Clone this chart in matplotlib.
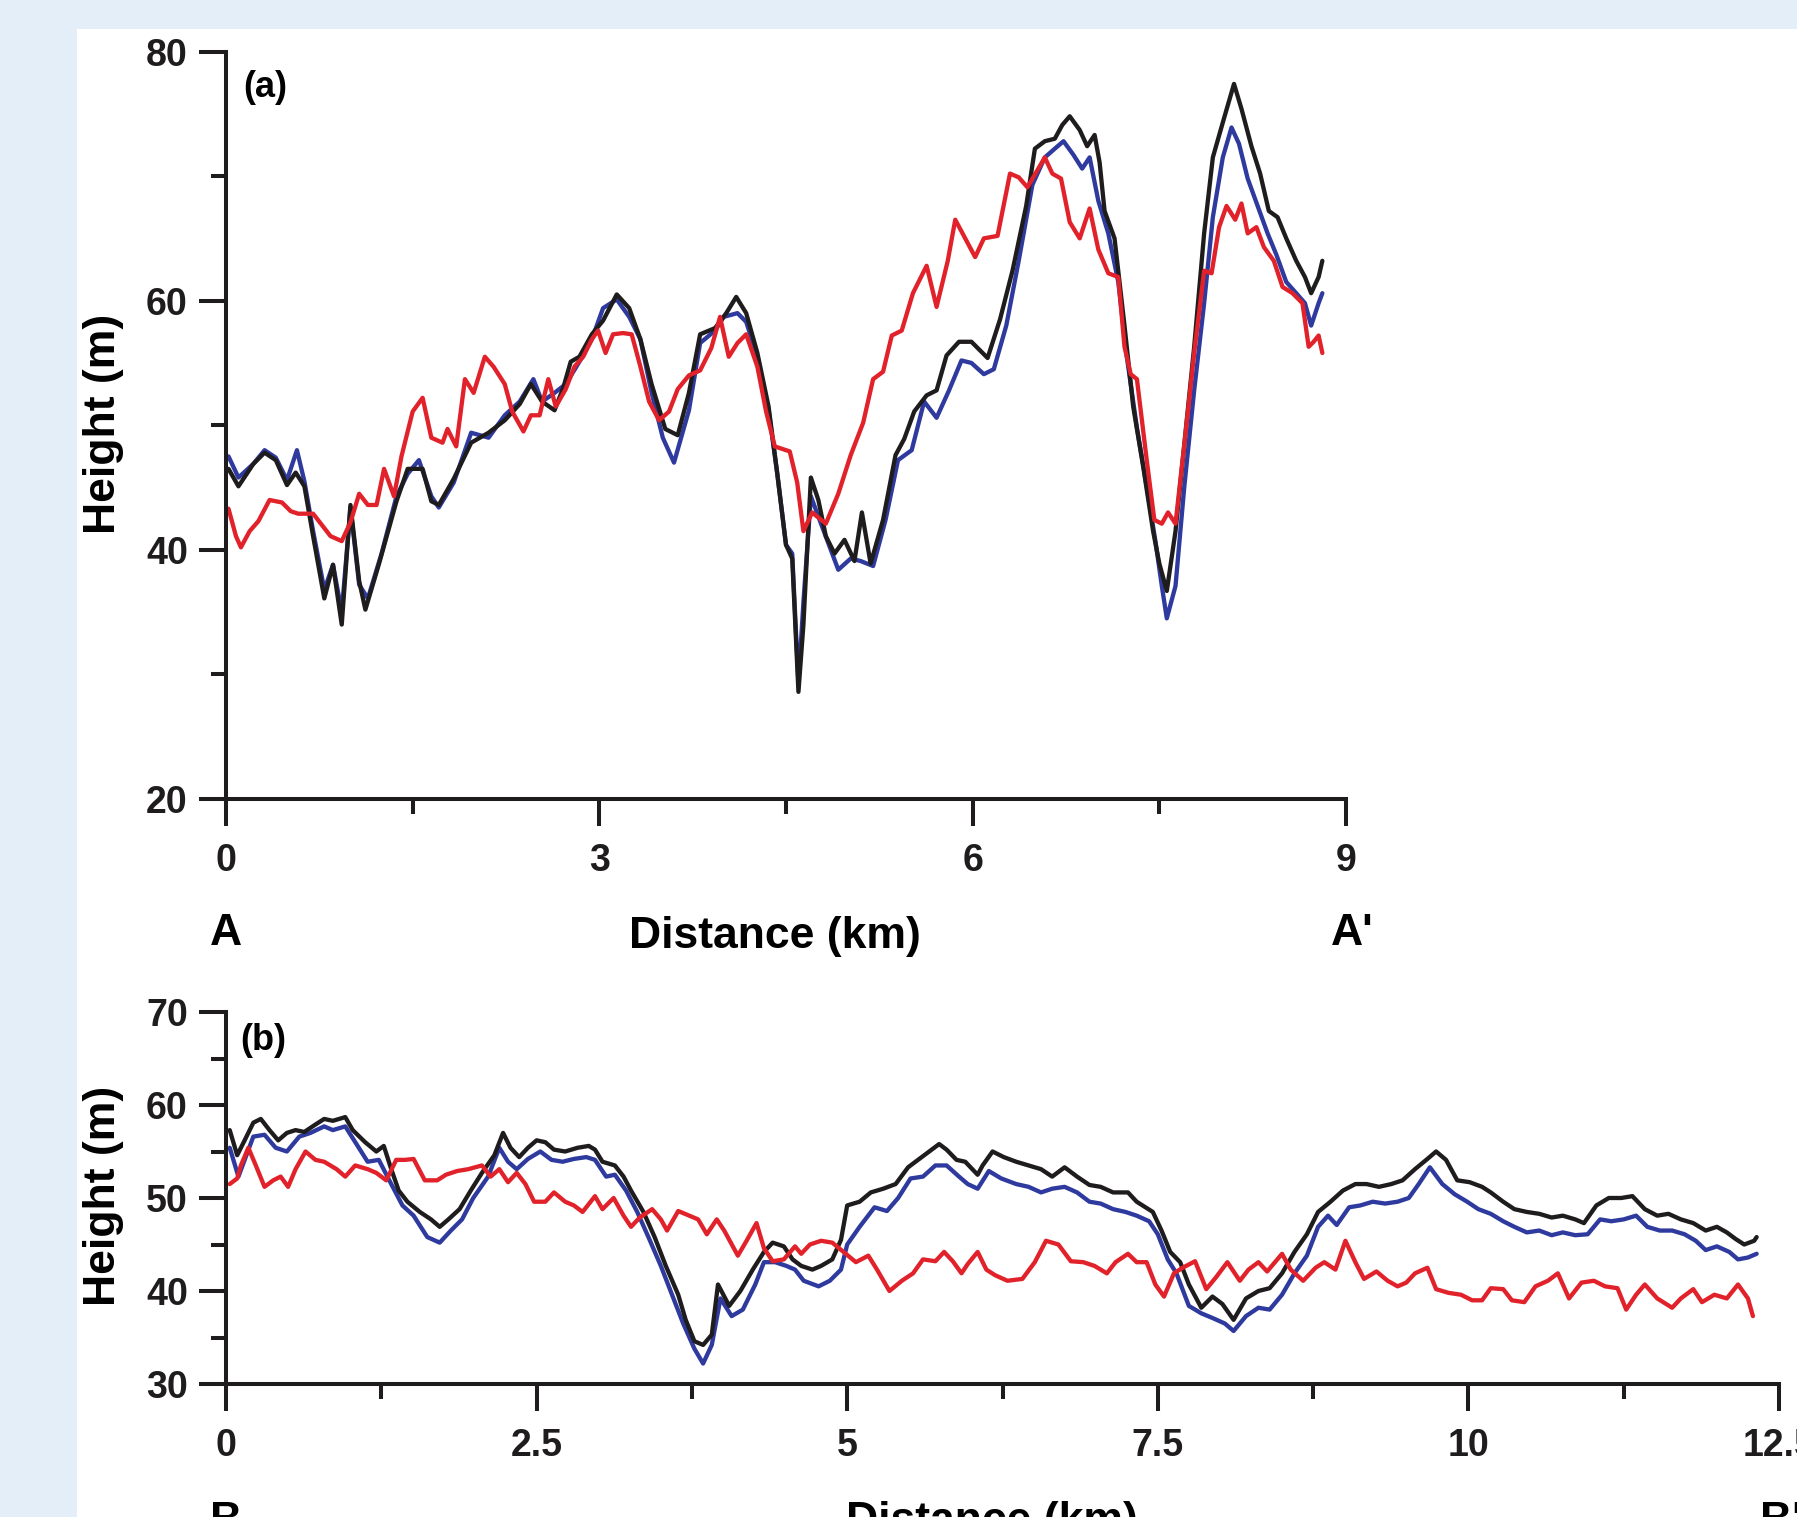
import numpy as np
import matplotlib.pyplot as plt
from matplotlib.patches import Rectangle
from matplotlib.ticker import MultipleLocator, FuncFormatter

plt.rcParams['font.family'] = ['Liberation Sans', 'DejaVu Sans']
plt.rcParams['font.weight'] = 'bold'

# ---- profile A-A' ----
a_black_km = [0.02, 0.10, 0.22, 0.31, 0.40, 0.49, 0.56, 0.63, 0.70, 0.79, 0.86, 0.93, 1.00, 1.07, 1.12, 1.23,
              1.37, 1.46, 1.58, 1.65, 1.71, 1.83, 1.97, 2.11, 2.24, 2.36, 2.45, 2.54, 2.64, 2.71, 2.77, 2.84,
              2.94, 3.03, 3.14, 3.24, 3.33, 3.42, 3.53, 3.63, 3.72, 3.81, 3.93, 4.02, 4.10, 4.18, 4.27, 4.36,
              4.43, 4.50, 4.55, 4.60, 4.64, 4.70, 4.76, 4.82, 4.89, 4.97, 5.05, 5.11, 5.18, 5.28, 5.38, 5.45,
              5.53, 5.63, 5.71, 5.79, 5.89, 5.99, 6.12, 6.22, 6.32, 6.43, 6.50, 6.58, 6.66, 6.72, 6.78, 6.86,
              6.92, 6.98, 7.02, 7.06, 7.14, 7.22, 7.29, 7.37, 7.45, 7.50, 7.56, 7.63, 7.70, 7.78, 7.86, 7.93,
              8.01, 8.10, 8.16, 8.24, 8.31, 8.38, 8.45, 8.52, 8.60, 8.67, 8.72, 8.78, 8.81]
a_black = [46.5, 45.1, 46.9, 47.8, 47.2, 45.2, 46.2, 45.1, 41.1, 36.1, 38.8, 34.0, 43.6, 37.5, 35.2, 38.9,
           43.9, 46.5, 46.5, 43.9, 43.6, 45.7, 48.6, 49.4, 50.4, 51.7, 53.3, 51.9, 51.2, 53.0, 55.1, 55.5,
           57.3, 58.4, 60.5, 59.4, 56.9, 53.3, 49.7, 49.2, 52.6, 57.3, 57.8, 59.0, 60.3, 59.0, 55.8, 51.5,
           46.1, 40.4, 39.3, 28.6, 34.0, 45.8, 44.0, 41.1, 39.7, 40.8, 39.1, 43.0, 38.9, 42.4, 47.6, 48.9,
           51.1, 52.4, 52.8, 55.6, 56.7, 56.7, 55.4, 58.5, 62.4, 67.6, 72.2, 72.8, 73.0, 74.1, 74.8, 73.7,
           72.4, 73.3, 71.1, 67.2, 65.0, 58.0, 51.5, 46.7, 41.5, 38.9, 36.7, 41.5, 48.4, 56.3, 65.4, 71.5,
           74.3, 77.4, 75.4, 72.4, 70.2, 67.2, 66.7, 65.0, 63.2, 61.9, 60.6, 61.9, 63.2]

a_blue_km = [0.02, 0.10, 0.22, 0.31, 0.40, 0.49, 0.57, 0.63, 0.70, 0.79, 0.86, 0.93, 1.00, 1.07, 1.14, 1.25,
             1.37, 1.46, 1.55, 1.65, 1.71, 1.83, 1.97, 2.11, 2.24, 2.36, 2.47, 2.54, 2.64, 2.73, 2.84, 2.94,
             3.03, 3.14, 3.24, 3.33, 3.42, 3.51, 3.60, 3.72, 3.81, 3.93, 4.00, 4.11, 4.18, 4.27, 4.36, 4.43,
             4.50, 4.55, 4.60, 4.64, 4.70, 4.77, 4.92, 5.02, 5.10, 5.20, 5.30, 5.40, 5.51, 5.61, 5.71, 5.81,
             5.91, 5.99, 6.09, 6.17, 6.27, 6.37, 6.48, 6.58, 6.66, 6.73, 6.81, 6.88, 6.94, 7.01, 7.09, 7.17,
             7.24, 7.32, 7.40, 7.47, 7.52, 7.56, 7.63, 7.70, 7.78, 7.86, 7.93, 8.01, 8.08, 8.14, 8.21, 8.29,
             8.37, 8.44, 8.52, 8.60, 8.67, 8.72, 8.78, 8.81]
a_blue = [47.5, 45.8, 46.9, 48.0, 47.4, 45.6, 48.0, 45.5, 41.5, 36.8, 38.8, 35.0, 43.4, 37.2, 36.1, 39.7,
          44.3, 46.1, 47.2, 44.3, 43.4, 45.4, 49.4, 49.0, 50.8, 51.9, 53.7, 51.9, 52.6, 53.3, 55.1, 56.9,
          59.4, 60.1, 58.7, 56.9, 52.6, 49.0, 47.0, 51.2, 56.6, 57.6, 58.7, 59.0, 58.3, 55.5, 51.2, 46.1,
          40.4, 39.7, 29.3, 35.8, 44.3, 42.4, 38.4, 39.3, 39.1, 38.7, 42.4, 47.2, 48.0, 51.9, 50.6, 52.8,
          55.2, 55.0, 54.1, 54.5, 58.0, 63.2, 69.3, 71.5, 72.2, 72.8, 71.7, 70.6, 71.5, 68.0, 65.4, 61.5,
          55.4, 49.8, 45.0, 40.6, 37.1, 34.5, 37.1, 45.0, 52.8, 59.8, 66.7, 71.5, 73.9, 72.6, 69.8, 67.6,
          65.4, 63.7, 61.5, 60.6, 59.8, 58.0, 59.8, 60.6]

a_red_km = [0.02, 0.08, 0.12, 0.19, 0.26, 0.35, 0.45, 0.52, 0.58, 0.70, 0.77, 0.84, 0.93, 1.00, 1.07, 1.14,
            1.21, 1.27, 1.35, 1.41, 1.50, 1.58, 1.65, 1.74, 1.78, 1.85, 1.92, 1.99, 2.08, 2.15, 2.24, 2.30,
            2.39, 2.45, 2.52, 2.59, 2.65, 2.73, 2.80, 2.87, 2.94, 2.99, 3.05, 3.11, 3.19, 3.26, 3.33, 3.40,
            3.48, 3.56, 3.63, 3.72, 3.81, 3.90, 3.97, 4.04, 4.11, 4.18, 4.27, 4.34, 4.41, 4.53, 4.59, 4.64,
            4.71, 4.82, 4.92, 5.02, 5.12, 5.20, 5.28, 5.35, 5.43, 5.52, 5.63, 5.71, 5.80, 5.86, 5.94, 6.02,
            6.09, 6.20, 6.30, 6.37, 6.44, 6.58, 6.64, 6.71, 6.78, 6.86, 6.94, 7.01, 7.09, 7.17, 7.22, 7.27,
            7.32, 7.40, 7.46, 7.52, 7.57, 7.63, 7.70, 7.78, 7.86, 7.92, 7.98, 8.04, 8.11, 8.16, 8.21, 8.28,
            8.34, 8.42, 8.49, 8.57, 8.65, 8.70, 8.74, 8.78, 8.81]
a_red = [43.3, 41.1, 40.2, 41.5, 42.3, 44.0, 43.8, 43.1, 42.9, 42.9, 42.0, 41.1, 40.7, 42.2, 44.5, 43.6,
         43.6, 46.5, 44.3, 47.5, 51.1, 52.2, 49.0, 48.6, 49.7, 48.3, 53.7, 52.6, 55.5, 54.7, 53.3, 51.1,
         49.5, 50.8, 50.8, 53.7, 51.5, 52.9, 54.7, 55.5, 56.9, 57.6, 55.8, 57.3, 57.4, 57.3, 54.7, 51.9,
         50.4, 51.1, 52.9, 54.0, 54.4, 56.2, 58.7, 55.5, 56.6, 57.3, 54.7, 51.1, 48.3, 47.9, 45.4, 41.5,
         43.0, 42.1, 44.5, 47.6, 50.2, 53.7, 54.3, 57.2, 57.6, 60.6, 62.8, 59.5, 63.2, 66.5, 65.0, 63.5,
         65.0, 65.2, 70.2, 69.9, 69.1, 71.5, 70.2, 69.8, 66.3, 65.0, 67.4, 64.1, 62.2, 61.9, 56.3, 54.1,
         53.7, 47.1, 42.4, 42.1, 43.0, 42.1, 48.4, 55.8, 62.4, 62.2, 65.9, 67.6, 66.5, 67.8, 65.4, 65.9,
         64.3, 63.2, 61.1, 60.6, 59.8, 56.3, 56.7, 57.2, 55.8]

# ---- profile B-B' ----
b_black_km = [0.03, 0.09, 0.15, 0.22, 0.28, 0.35, 0.42, 0.49, 0.56, 0.63, 0.72, 0.79, 0.86, 0.96, 1.02, 1.12,
              1.21, 1.27, 1.33, 1.39, 1.46, 1.56, 1.65, 1.72, 1.79, 1.88, 1.97, 2.06, 2.16, 2.23, 2.29, 2.36,
              2.43, 2.50, 2.57, 2.64, 2.73, 2.83, 2.92, 2.97, 3.03, 3.13, 3.20, 3.26, 3.36, 3.45, 3.54, 3.64,
              3.70, 3.77, 3.84, 3.91, 3.96, 4.05, 4.14, 4.24, 4.33, 4.40, 4.49, 4.56, 4.63, 4.72, 4.79, 4.88,
              4.95, 5.00, 5.10, 5.19, 5.29, 5.39, 5.49, 5.58, 5.68, 5.74, 5.80, 5.88, 5.95, 6.05, 6.09, 6.17,
              6.26, 6.36, 6.46, 6.56, 6.65, 6.75, 6.85, 6.95, 7.04, 7.14, 7.26, 7.33, 7.46, 7.53, 7.60, 7.68,
              7.75, 7.85, 7.94, 8.02, 8.11, 8.21, 8.31, 8.40, 8.50, 8.60, 8.70, 8.79, 8.89, 8.99, 9.09, 9.18,
              9.28, 9.38, 9.47, 9.57, 9.67, 9.74, 9.82, 9.91, 10.01, 10.11, 10.18, 10.28, 10.37, 10.47, 10.57,
              10.67, 10.76, 10.86, 10.93, 11.03, 11.13, 11.23, 11.32, 11.42, 11.52, 11.61, 11.71, 11.81, 11.91,
              12.00, 12.08, 12.15, 12.22, 12.30, 12.32]
b_black = [57.3, 54.6, 56.2, 58.1, 58.5, 57.3, 56.2, 57.0, 57.3, 57.1, 57.9, 58.5, 58.3, 58.7, 57.3, 56.0,
           55.0, 55.6, 53.1, 50.8, 49.6, 48.5, 47.7, 46.9, 47.7, 48.8, 50.8, 52.7, 54.6, 57.0, 55.4, 54.4,
           55.4, 56.2, 56.0, 55.2, 55.0, 55.4, 55.6, 55.2, 53.9, 53.5, 52.3, 50.8, 48.5, 45.8, 42.7, 39.6,
           36.9, 34.6, 34.2, 35.3, 40.7, 38.4, 40.0, 42.3, 44.2, 45.2, 44.8, 43.4, 42.7, 42.3, 42.7, 43.4,
           45.5, 49.2, 49.6, 50.6, 51.0, 51.5, 53.3, 54.2, 55.2, 55.8, 55.2, 54.1, 53.9, 52.5, 53.5, 55.0,
           54.4, 53.9, 53.5, 53.1, 52.3, 53.3, 52.3, 51.4, 51.2, 50.6, 50.6, 49.6, 48.5, 46.5, 44.2, 43.1,
           40.7, 38.2, 39.4, 38.6, 36.9, 39.2, 40.0, 40.3, 41.9, 44.2, 46.1, 48.5, 49.6, 50.8, 51.5, 51.5,
           51.2, 51.5, 51.9, 53.1, 54.2, 55.0, 54.1, 51.9, 51.7, 51.2, 50.6, 49.6, 48.8, 48.5, 48.3,
           47.9, 48.1, 47.7, 47.3, 49.2, 50.0, 50.0, 50.2, 48.8, 48.1, 48.3, 47.7, 47.3, 46.5,
           46.9, 46.3, 45.6, 45.0, 45.4, 45.8]

b_blue_km = [0.03, 0.10, 0.15, 0.22, 0.31, 0.40, 0.49, 0.59, 0.68, 0.79, 0.86, 0.96, 1.05, 1.14, 1.23, 1.33,
             1.42, 1.51, 1.62, 1.72, 1.81, 1.90, 1.99, 2.11, 2.20, 2.27, 2.34, 2.43, 2.53, 2.62, 2.71, 2.80,
             2.90, 2.97, 3.06, 3.13, 3.22, 3.31, 3.40, 3.50, 3.59, 3.68, 3.77, 3.84, 3.91, 3.98, 4.07, 4.16,
             4.26, 4.33, 4.42, 4.51, 4.58, 4.65, 4.77, 4.86, 4.95, 5.00, 5.10, 5.22, 5.32, 5.41, 5.51, 5.61,
             5.71, 5.80, 5.90, 5.97, 6.05, 6.14, 6.24, 6.36, 6.46, 6.56, 6.65, 6.75, 6.85, 6.95, 7.04, 7.14,
             7.24, 7.33, 7.43, 7.50, 7.58, 7.65, 7.75, 7.85, 7.94, 8.04, 8.11, 8.21, 8.31, 8.40, 8.50, 8.60,
             8.70, 8.79, 8.87, 8.94, 9.04, 9.13, 9.23, 9.33, 9.43, 9.52, 9.60, 9.69, 9.79, 9.89, 9.99, 10.08,
             10.18, 10.28, 10.37, 10.47, 10.57, 10.67, 10.76, 10.86, 10.96, 11.06, 11.15, 11.25, 11.35, 11.44,
             11.54, 11.64, 11.74, 11.83, 11.91, 12.00, 12.10, 12.17, 12.25, 12.32]
b_blue = [55.4, 52.3, 54.1, 56.6, 56.8, 55.4, 55.0, 56.6, 57.0, 57.7, 57.3, 57.7, 55.8, 53.9, 54.1, 51.5,
          49.2, 48.1, 45.8, 45.2, 46.5, 47.7, 50.0, 52.3, 55.4, 53.9, 53.1, 54.2, 55.0, 54.1, 53.9, 54.2,
          54.4, 54.1, 52.3, 52.5, 50.8, 48.5, 45.8, 42.7, 39.6, 36.5, 33.8, 32.2, 34.2, 39.2, 37.3, 38.0,
          40.7, 43.1, 43.1, 42.7, 42.3, 41.1, 40.5, 41.1, 42.3, 45.0, 46.9, 49.0, 48.6, 50.0, 52.1, 52.3,
          53.5, 53.5, 52.3, 51.5, 51.0, 52.9, 52.1, 51.5, 51.2, 50.6, 51.0, 51.2, 50.6, 49.6, 49.4, 48.8,
          48.5, 48.1, 47.5, 46.1, 43.4, 41.9, 38.4, 37.6, 37.1, 36.5, 35.7, 37.3, 38.2, 38.0, 39.6, 41.9,
          43.8, 46.9, 48.1, 47.1, 49.0, 49.2, 49.6, 49.4, 49.6, 50.0, 51.5, 53.3, 51.5, 50.4, 49.6, 48.8,
          48.3, 47.5, 46.9, 46.3, 46.5, 46.0, 46.3, 46.0, 46.1, 47.7, 47.5, 47.7, 48.1, 46.9,
          46.5, 46.5, 46.1, 45.4, 44.4, 44.8, 44.2, 43.4, 43.6, 44.0]

b_red_km = [0.03, 0.09, 0.12, 0.18, 0.24, 0.31, 0.38, 0.44, 0.50, 0.56, 0.64, 0.72, 0.79, 0.89, 0.96, 1.04,
            1.14, 1.21, 1.29, 1.37, 1.44, 1.51, 1.60, 1.70, 1.77, 1.86, 1.95, 2.06, 2.13, 2.20, 2.27, 2.34,
            2.41, 2.48, 2.57, 2.64, 2.73, 2.80, 2.87, 2.97, 3.03, 3.12, 3.20, 3.26, 3.33, 3.43, 3.50, 3.55,
            3.64, 3.73, 3.80, 3.87, 3.95, 4.01, 4.12, 4.19, 4.27, 4.33, 4.40, 4.49, 4.58, 4.63, 4.70, 4.79,
            4.88, 4.97, 5.07, 5.17, 5.24, 5.34, 5.44, 5.53, 5.61, 5.71, 5.78, 5.85, 5.92, 5.97, 6.05, 6.12,
            6.19, 6.29, 6.41, 6.51, 6.60, 6.70, 6.80, 6.90, 6.99, 7.09, 7.16, 7.26, 7.33, 7.41, 7.48, 7.55,
            7.63, 7.70, 7.80, 7.89, 7.97, 8.06, 8.16, 8.23, 8.31, 8.38, 8.50, 8.57, 8.67, 8.77, 8.84, 8.93,
            9.01, 9.09, 9.16, 9.26, 9.35, 9.43, 9.50, 9.57, 9.67, 9.74, 9.84, 9.94, 10.03, 10.11, 10.18,
            10.28, 10.35, 10.45, 10.54, 10.64, 10.72, 10.81, 10.91, 11.01, 11.10, 11.20, 11.27, 11.35, 11.42,
            11.52, 11.64, 11.71, 11.81, 11.88, 11.98, 12.08, 12.17, 12.25, 12.29]
b_red = [51.5, 52.1, 53.5, 55.4, 53.5, 51.2, 51.9, 52.3, 51.2, 53.1, 55.0, 54.1, 53.9, 53.1, 52.3, 53.5,
         53.1, 52.7, 51.9, 54.1, 54.1, 54.2, 51.9, 51.9, 52.5, 52.9, 53.1, 53.5, 52.3, 53.1, 51.7, 52.7,
         51.5, 49.6, 49.6, 50.6, 49.6, 49.2, 48.5, 50.2, 48.8, 50.0, 48.1, 46.9, 47.9, 48.8, 47.7, 46.5,
         48.6, 48.1, 47.7, 46.1, 47.7, 46.5, 43.8, 45.4, 47.3, 44.6, 43.2, 43.4, 44.8, 44.0, 45.0, 45.4,
         45.2, 44.2, 43.1, 43.8, 42.3, 40.0, 41.1, 41.9, 43.4, 43.2, 44.2, 43.2, 41.9, 42.9, 44.2, 42.3,
         41.7, 41.1, 41.3, 43.1, 45.4, 45.0, 43.2, 43.1, 42.7, 41.9, 43.1, 44.0, 43.1, 43.1, 40.7, 39.4,
         41.9, 42.5, 43.2, 40.2, 41.5, 43.1, 41.1, 42.3, 43.1, 42.1, 44.0, 42.3, 41.1, 42.5, 43.1, 42.3,
         45.4, 43.1, 41.3, 42.1, 41.1, 40.5, 40.9, 41.9, 42.5, 40.2, 39.8, 39.6, 39.0, 39.0, 40.3,
         40.2, 39.0, 38.8, 40.5, 41.1, 41.9, 39.2, 40.9, 41.1, 40.5, 40.3, 38.0, 39.6, 40.7,
         39.2, 38.2, 39.2, 40.2, 38.8, 39.6, 39.2, 40.7, 39.2, 37.3]

a_xticks = [0, 3, 6, 9]
b_xticks = [0, 2.5, 5, 7.5, 10, 12.5]

BLACK = '#1f1c1d'
BLUE = '#2f3a9e'
RED = '#e2222b'

W, H = 1797, 1517
fig = plt.figure(figsize=(W / 100, H / 100), dpi=100)
fig.patch.set_facecolor('#e4eef8')
# white page area, kept behind both axes
fig.patches.append(Rectangle((77 / W, 0), 1 - 77 / W, 1 - 29 / H,
                             transform=fig.transFigure, facecolor='white',
                             edgecolor='none', zorder=-10))


def px_box(x0, y0, x1, y1):
    return [x0 / W, 1 - y1 / H, (x1 - x0) / W, (y1 - y0) / H]


def style(ax, xmaj, xmin, ymaj, ymin):
    for s in ['top', 'right']:
        ax.spines[s].set_visible(False)
    for s in ['left', 'bottom']:
        ax.spines[s].set_linewidth(2.9)
        ax.spines[s].set_color(BLACK)
    ax.set_facecolor('none')
    ax.xaxis.set_major_locator(MultipleLocator(xmaj))
    ax.xaxis.set_minor_locator(MultipleLocator(xmin))
    ax.yaxis.set_major_locator(MultipleLocator(ymaj))
    ax.yaxis.set_minor_locator(MultipleLocator(ymin))
    ax.xaxis.set_major_formatter(FuncFormatter(lambda v, p: '%g' % v))
    ax.yaxis.set_major_formatter(FuncFormatter(lambda v, p: '%g' % v))
    ax.tick_params(which='major', direction='out', length=19.5, width=2.9,
                   labelsize=27, color=BLACK, labelcolor=BLACK)
    ax.tick_params(which='minor', direction='out', length=10.5, width=2.9, color=BLACK)
    ax.tick_params(axis='y', which='major', pad=8)
    ax.tick_params(axis='x', which='major', pad=12)


def profile(ax, series):
    for km, m, c in series:
        ax.plot(km, m, color=c, lw=3.1, solid_joinstyle='round', solid_capstyle='round')


# (a)
ax1 = fig.add_axes(px_box(226, 51.5, 1346, 799))
profile(ax1, [(a_blue_km, a_blue, BLUE), (a_black_km, a_black, BLACK), (a_red_km, a_red, RED)])
ax1.set_xlim(0, 9)
ax1.set_ylim(20, 80)
style(ax1, 3, 1.5, 20, 10)
ax1.set_xticks(a_xticks)

# (b)
ax2 = fig.add_axes(px_box(226, 1012, 1779, 1384))
profile(ax2, [(b_blue_km, b_blue, BLUE), (b_black_km, b_black, BLACK), (b_red_km, b_red, RED)])
ax2.set_xlim(0, 12.5)
ax2.set_ylim(30, 70)
style(ax2, 2.5, 1.25, 10, 5)
ax2.set_xticks(b_xticks)


def ptext(x, y, s, **kw):
    # place text by pixel position (from the top-left corner)
    fig.text(x / W, 1 - y / H, s, **kw)


ptext(243, 97, '(a)', fontsize=26, ha='left', va='baseline')
ptext(240, 1050, '(b)', fontsize=26, ha='left', va='baseline')

for yc in (424, 1196):
    ptext(103, yc, 'Height (m)', fontsize=32, rotation=90, ha='center', va='center')

ptext(775, 948, 'Distance (km)', fontsize=32, ha='center', va='baseline')
ptext(226, 945, 'A', fontsize=32, ha='center', va='baseline')
ptext(1352, 945, "A'", fontsize=32, ha='center', va='baseline')

ptext(992, 1533, 'Distance (km)', fontsize=32, ha='center', va='baseline')
ptext(226, 1533, 'B', fontsize=32, ha='center', va='baseline')
ptext(1760, 1533, "B'", fontsize=32, ha='left', va='baseline')

fig.savefig('out.png', dpi=100, facecolor=fig.get_facecolor())
